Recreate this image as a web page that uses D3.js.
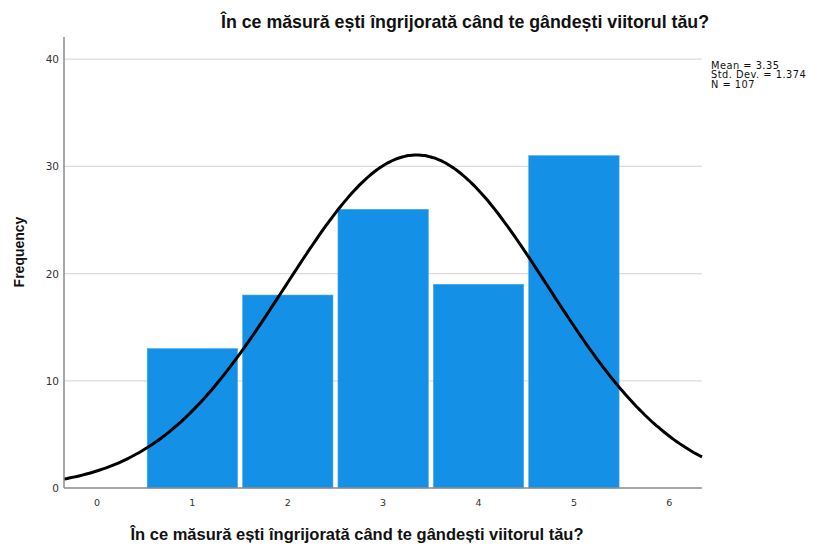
<!DOCTYPE html>
<html>
<head>
<meta charset="utf-8">
<script src="https://cdn.jsdelivr.net/npm/d3@7"></script>
<style>
  body { margin: 0; background: #fff; }
  svg { display: block; font-family: "Liberation Sans", Arial, sans-serif; }
</style>
</head>
<body>
<svg id="chart" width="814" height="545"></svg>
<script>
// --- données ---
const titleText = "În ce măsură ești îngrijorată când te gândești viitorul tău?";
const categories = [1, 2, 3, 4, 5];
const frequencies = [13, 18, 26, 19, 31];
const xTicks = [0, 1, 2, 3, 4, 5, 6];
const yTicks = [0, 10, 20, 30, 40];
const statMean = 3.35;
const statSD = 1.374;
const statN = 107;
const statLines = ["Mean = 3.35", "Std. Dev. = 1.374", "N = 107"];

const svg = d3.select("#chart");

// zone du graphique
const plotLeft = 64, plotRight = 702, plotTop = 37, plotBottom = 488;

const x = d3.scaleLinear().domain([-0.346, 6.343]).range([plotLeft, plotRight]);
const y = d3.scaleLinear().domain([0, 42.07]).range([plotBottom, plotTop]);

// grille horizontale
svg.append("g")
  .selectAll("line")
  .data(yTicks.filter(d => d > 0))
  .enter().append("line")
  .attr("x1", plotLeft).attr("x2", plotRight)
  .attr("y1", d => y(d)).attr("y2", d => y(d))
  .attr("stroke", "#dcdcdc")
  .attr("stroke-width", 1.2);

// barres
const inset = 2.5;
svg.append("g")
  .selectAll("rect")
  .data(categories.map((c, i) => ({ c, f: frequencies[i] })))
  .enter().append("rect")
  .attr("x", d => x(d.c - 0.5) + inset)
  .attr("width", d => x(d.c + 0.5) - x(d.c - 0.5) - 2 * inset)
  .attr("y", d => y(d.f))
  .attr("height", d => y(0) - y(d.f))
  .attr("fill", "#1490e6")
  .attr("stroke", "#4aa9ee")
  .attr("stroke-width", 0.6);

// courbe normale (à partir de la moyenne, écart-type, N)
const normal = v => statN * Math.exp(-0.5 * ((v - statMean) / statSD) ** 2) / (statSD * Math.sqrt(2 * Math.PI));
const curvePts = d3.range(0, 201).map(i => {
  const v = x.domain()[0] + (x.domain()[1] - x.domain()[0]) * i / 200;
  return [v, normal(v)];
});
svg.append("path")
  .datum(curvePts)
  .attr("d", d3.line().x(d => x(d[0])).y(d => y(d[1])).curve(d3.curveBasis))
  .attr("fill", "none")
  .attr("stroke", "#000")
  .attr("stroke-width", 3);

// axes
svg.append("line")
  .attr("x1", plotLeft).attr("x2", plotLeft).attr("y1", plotTop).attr("y2", plotBottom)
  .attr("stroke", "#8a8a8a").attr("stroke-width", 1.5);
svg.append("line")
  .attr("x1", plotLeft).attr("x2", plotRight).attr("y1", plotBottom).attr("y2", plotBottom)
  .attr("stroke", "#8a8a8a").attr("stroke-width", 1.5);

// étiquettes des graduations
svg.append("g")
  .selectAll("text")
  .data(yTicks)
  .enter().append("text")
  .attr("x", plotLeft - 5)
  .attr("y", d => y(d) + 4)
  .attr("text-anchor", "end")
  .attr("font-family", "DejaVu Sans")
  .attr("font-size", 10.5)
  .attr("fill", "#333")
  .text(d => d);

svg.append("g")
  .selectAll("text")
  .data(xTicks)
  .enter().append("text")
  .attr("x", d => x(d))
  .attr("y", plotBottom + 18)
  .attr("text-anchor", "middle")
  .attr("font-family", "DejaVu Sans")
  .attr("font-size", 9.5)
  .attr("fill", "#333")
  .text(d => d);

// titres
svg.append("text")
  .attr("x", 465).attr("y", 27.5)
  .attr("text-anchor", "middle")
  .attr("font-size", 17.8)
  .attr("font-weight", "bold")
  .attr("fill", "#111")
  .text(titleText);

svg.append("text")
  .attr("x", 357).attr("y", 540)
  .attr("text-anchor", "middle")
  .attr("font-size", 16.5)
  .attr("font-weight", "bold")
  .attr("fill", "#111")
  .text(titleText);

svg.append("text")
  .attr("transform", "translate(24,252) rotate(-90)")
  .attr("text-anchor", "middle")
  .attr("font-size", 14)
  .attr("font-weight", "bold")
  .attr("fill", "#111")
  .text("Frequency");

// statistiques
svg.append("g")
  .selectAll("text")
  .data(statLines)
  .enter().append("text")
  .attr("x", 711)
  .attr("y", (d, i) => 68.5 + i * 9.6)
  .attr("font-family", "DejaVu Sans")
  .attr("font-size", 9.8)
  .attr("letter-spacing", 0.5)
  .attr("fill", "#111")
  .text(d => d);
</script>
</body>
</html>
